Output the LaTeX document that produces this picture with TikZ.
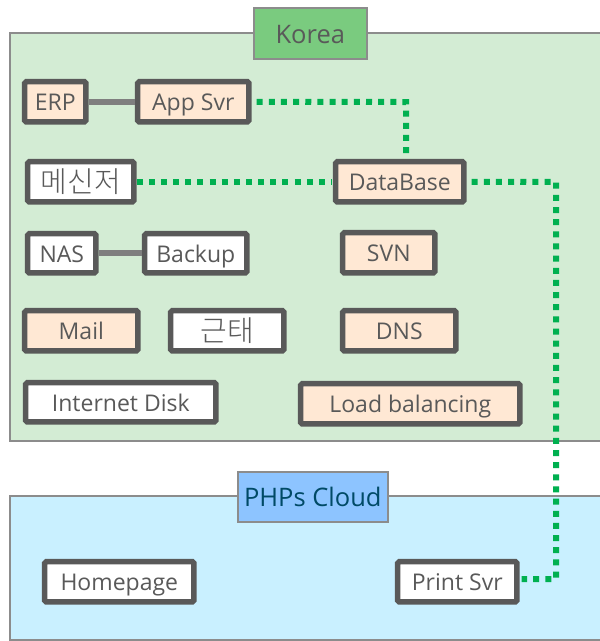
\documentclass[tikz,border=0pt]{standalone}
\usepackage{fontspec}
\setmainfont{Open Sans}
\newfontfamily\krfont{Noto Sans CJK KR Light}
\definecolor{panelgreen}{HTML}{D3ECD4}
\definecolor{panelblue}{HTML}{C9F0FF}
\definecolor{tagGreen}{HTML}{7ACB7F}
\definecolor{tagBlue}{HTML}{8DC4FF}
\definecolor{peach}{HTML}{FFE8D4}
\definecolor{edgegray}{HTML}{595959}
\definecolor{linegray}{HTML}{7F7F7F}
\definecolor{panelline}{HTML}{8C8C8C}
\definecolor{dotgreen}{HTML}{00B050}
\definecolor{cloudtext}{HTML}{004A66}
\tikzset{
  x=1pt,y=-1pt,
  panel/.style={draw=panelline,line width=2.5pt},
  tagbox/.style={draw=panelline,line width=2.5pt,inner sep=0pt,text height=20pt,text depth=0pt,font=\fontsize{25.5}{28}\selectfont,text=edgegray},
  srv/.style={draw=edgegray,line width=5.5pt,rounded corners=1.5pt,inner sep=0pt,text height=17.5pt,text depth=0pt,text=edgegray,font=\fontsize{23}{26}\selectfont,xshift=0.3pt,yshift=-0.3pt},
  peachsrv/.style={srv,fill=peach},
  whitesrv/.style={srv,fill=white},
  krsrv/.style={whitesrv,text height=22pt,font=\krfont\fontsize{29}{32}\selectfont},
  solidlink/.style={draw=linegray,line width=6pt},
  dotlink/.style={draw=dotgreen,line width=6pt,dash pattern=on 6pt off 6.15pt},
  sz/.style 2 args={minimum width=#1pt-4.8pt,minimum height=#2pt-4.8pt},
}
\begin{document}
\begin{tikzpicture}
\useasboundingbox (0,0) rectangle (600,641);
\clip (0,0) rectangle (600,641);
\fill[white] (0,0) rectangle (600,641);
\draw[panel,fill=panelgreen] (10,33) rectangle (620,441);
\draw[panel,fill=panelblue] (10,496) rectangle (620,640);
\node[tagbox,fill=tagGreen,minimum width=113pt,minimum height=51pt] (korea) at (310.3,33.3) {Korea};
\node[tagbox,fill=tagBlue,text=cloudtext,minimum width=150pt,minimum height=50pt] (cloud) at (312.8,496.8) {PHPs Cloud};

\node[peachsrv,sz={66}{45}] (erp) at (55,101.5) {ERP};
\node[peachsrv,sz={116}{45}] (app) at (193,101.5) {App Svr};
\node[krsrv,sz={111}{45}] (msg) at (80.5,181.5) {메신저};
\node[peachsrv,sz={133}{45}] (db) at (399.5,181.5) {DataBase};
\node[whitesrv,sz={73}{44}] (nas) at (61.5,253) {NAS};
\node[whitesrv,sz={107}{44}] (backup) at (195.5,253) {Backup};
\node[peachsrv,sz={97}{45}] (svn) at (388.5,252.5) {SVN};
\node[peachsrv,sz={118}{45}] (mail) at (81,330.5) {Mail};
\node[krsrv,sz={118}{45}] (gt) at (227,330.5) {근태};
\node[peachsrv,sz={118}{45}] (dns) at (399,330.5) {DNS};
\node[whitesrv,sz={195}{44}] (disk) at (120.5,402) {Internet Disk};
\node[peachsrv,sz={224}{45}] (lb) at (410,403.5) {Load balancing};
\node[whitesrv,sz={154}{45}] (home) at (119,581.5) {Homepage};
\node[whitesrv,sz={124}{45}] (print) at (457,581.5) {Print Svr};

\draw[solidlink] (erp) -- (app);
\draw[solidlink] (nas) -- (backup);
\coordinate (c1) at (406,102);
\coordinate (c2) at (556,182);
\coordinate (c3) at (556,579);
\draw[dotlink,shorten <=5pt] (app.east) -- (c1) -- (db.north -| c1);
\draw[dotlink,shorten >=1pt] (msg.east) -- (db.west);
\draw[dotlink,shorten <=5pt,shorten >=2pt] (db.east) -- (c2) -- (c3) -- (print.east |- c3);
\end{tikzpicture}
\end{document}
